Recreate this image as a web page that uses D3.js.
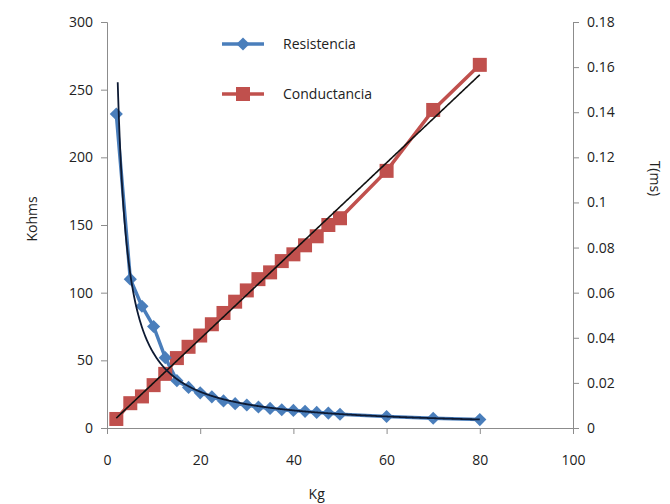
<!DOCTYPE html>
<html>
<head>
<meta charset="utf-8">
<script src="https://cdn.jsdelivr.net/npm/d3@7"></script>
<style>
  body { margin: 0; background: #fff; }
  text { font-family: "Open Sans", "Noto Sans", sans-serif; fill: #222; }
  .axis path, .axis line { stroke: #8c8c8c; }
  .axis text { font-size: 14px; fill: #222; }
</style>
</head>
<body>
<div id="chart"></div>
<script>
// Kg values
var kg = [2, 5, 7.5, 10, 12.5, 15, 17.5, 20, 22.5, 25, 27.5, 30, 32.5, 35, 37.5, 40, 42.5, 45, 47.5, 50, 60, 70, 80];
// Resistencia (Kohms)
var resistencia = [232, 110, 90, 75, 52, 35, 30, 26, 23, 20, 18, 17, 15.5, 14.5, 13.5, 13, 12.3, 11.5, 11, 10.2, 8.5, 7.2, 6.2];
// Conductancia, T(ms)
var conductancia = [0.004, 0.011, 0.014, 0.019, 0.024, 0.031, 0.036, 0.041, 0.046, 0.051, 0.056, 0.061, 0.066, 0.069, 0.074, 0.077, 0.081, 0.085, 0.09, 0.093, 0.114, 0.141, 0.161];

var xTicks = [0, 20, 40, 60, 80, 100];
var yLeftTicks = [0, 50, 100, 150, 200, 250, 300];
var yRightTicks = [0, 0.02, 0.04, 0.06, 0.08, 0.1, 0.12, 0.14, 0.16, 0.18];

var svgWidth = 670;
var svgHeight = 504;
var margin = { top: 22, right: 97, bottom: 76, left: 107 };
var width = svgWidth - margin.left - margin.right;
var height = svgHeight - margin.top - margin.bottom;

var svg = d3.select("#chart")
  .append("svg")
  .attr("width", svgWidth)
  .attr("height", svgHeight);

var chartGroup = svg.append("g")
  .attr("transform", `translate(${margin.left}, ${margin.top})`);

var xScale = d3.scaleLinear().domain([0, 100]).range([0, width]);
var yLeft = d3.scaleLinear().domain([0, 300]).range([height, 0]);
var yRight = d3.scaleLinear().domain([0, 0.18]).range([height, 0]);

var blue = "#4a7ebb";
var red = "#c0504d";

// axes
chartGroup.append("g")
  .classed("axis", true)
  .attr("transform", `translate(0, ${height})`)
  .call(d3.axisBottom(xScale).tickValues(xTicks).tickSizeOuter(0).tickSize(6).tickPadding(18))
  .selectAll("text").attr("dy", "0.9em");

chartGroup.append("g")
  .classed("axis", true)
  .call(d3.axisLeft(yLeft).tickValues(yLeftTicks).tickSizeOuter(0).tickSize(6).tickPadding(8));

chartGroup.append("g")
  .classed("axis", true)
  .attr("transform", `translate(${width}, 0)`)
  .call(d3.axisRight(yRight).tickValues(yRightTicks).tickSizeOuter(0).tickSize(6).tickPadding(8)
    .tickFormat(d => d === 0 ? "0" : String(+d.toFixed(2))));

// axis titles
chartGroup.append("text")
  .attr("x", xScale(45))
  .attr("y", height + 71)
  .attr("text-anchor", "middle")
  .style("font-size", "14px")
  .text("Kg");

chartGroup.append("text")
  .attr("transform", `translate(${-70}, ${height / 2 - 6}) rotate(-90)`)
  .attr("text-anchor", "middle")
  .style("font-size", "14px")
  .text("Kohms");

chartGroup.append("text")
  .attr("transform", `translate(${width + 77}, ${yRight(0.1) - 24}) rotate(90)`)
  .attr("text-anchor", "middle")
  .style("font-size", "14px")
  .text("T(ms)");

// series lines
var resData = kg.map((k, i) => ({ x: k, y: resistencia[i] }));
var conData = kg.map((k, i) => ({ x: k, y: conductancia[i] }));

var resLine = d3.line().x(d => xScale(d.x)).y(d => yLeft(d.y));
var conLine = d3.line().x(d => xScale(d.x)).y(d => yRight(d.y));

chartGroup.append("path")
  .datum(conData)
  .attr("d", conLine)
  .attr("fill", "none")
  .attr("stroke", red)
  .attr("stroke-width", 3.5);

chartGroup.append("path")
  .datum(resData)
  .attr("d", resLine)
  .attr("fill", "none")
  .attr("stroke", blue)
  .attr("stroke-width", 3.5);

// markers
chartGroup.selectAll(".sq")
  .data(conData)
  .enter()
  .append("rect")
  .attr("x", d => xScale(d.x) - 7)
  .attr("y", d => yRight(d.y) - 7)
  .attr("width", 14)
  .attr("height", 14)
  .attr("fill", red);

var diamond = d3.symbol().type(d3.symbolDiamond2).size(110);
chartGroup.selectAll(".dm")
  .data(resData)
  .enter()
  .append("path")
  .attr("d", diamond)
  .attr("transform", d => `translate(${xScale(d.x)}, ${yLeft(d.y)})`)
  .attr("fill", blue);

// trend lines: linear fit for conductancia, power fit for resistencia
function linFit(xs, ys) {
  var mx = d3.mean(xs), my = d3.mean(ys);
  var sxy = d3.sum(xs, (x, i) => (x - mx) * (ys[i] - my));
  var sxx = d3.sum(xs, x => (x - mx) * (x - mx));
  var b = sxy / sxx;
  return { a: my - b * mx, b: b };
}

var lf = linFit(kg, conductancia);
var pf = linFit(kg.map(Math.log), resistencia.map(Math.log));

chartGroup.append("path")
  .datum(d3.range(2, 80.01, 0.25))
  .attr("d", d3.line().x(x => xScale(x)).y(x => yRight(lf.a + lf.b * x)))
  .attr("fill", "none")
  .attr("stroke", "#111")
  .attr("stroke-width", 1.6);

// power trend drawn from just right of the first point, as in the original
chartGroup.append("path")
  .datum(d3.range(2.3, 80.01, 0.1))
  .attr("d", d3.line().x(x => xScale(x)).y(x => yLeft(Math.exp(pf.a) * Math.pow(x, pf.b))))
  .attr("fill", "none")
  .attr("stroke", "#0d1a33")
  .attr("stroke-width", 1.8);

// legend
var legend = svg.append("g");
var legendItems = [
  { name: "Resistencia", color: blue, shape: "diamond", y: 44 },
  { name: "Conductancia", color: red, shape: "square", y: 94 }
];
legendItems.forEach(function(item) {
  legend.append("line")
    .attr("x1", 222).attr("x2", 264)
    .attr("y1", item.y).attr("y2", item.y)
    .attr("stroke", item.color)
    .attr("stroke-width", 3.5);
  if (item.shape === "diamond") {
    legend.append("path")
      .attr("d", diamond)
      .attr("transform", `translate(243, ${item.y})`)
      .attr("fill", item.color);
  } else {
    legend.append("rect")
      .attr("x", 236).attr("y", item.y - 7)
      .attr("width", 14).attr("height", 14)
      .attr("fill", item.color);
  }
  legend.append("text")
    .attr("x", 283)
    .attr("y", item.y + 5)
    .style("font-size", "14px")
    .text(item.name);
});
</script>
</body>
</html>
